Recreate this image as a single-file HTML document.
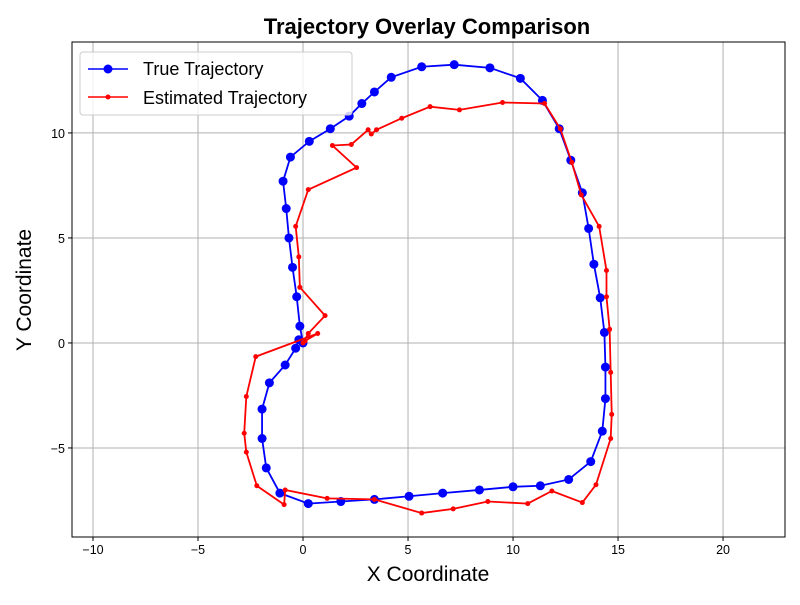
<!DOCTYPE html>
<html><head><meta charset="utf-8"><style>
body{margin:0;background:#fff;font-family:"Liberation Sans",sans-serif}
</style></head><body>
<svg width="800" height="600" xmlns="http://www.w3.org/2000/svg">
<rect width="800" height="600" fill="#fff"/>
<g id="grid"></g>
<g id="ticks"></g>
<g id="series"></g>
<rect x="72" y="42" width="713" height="495" fill="none" stroke="#000" stroke-width="1"/>
<text x="427" y="34" text-anchor="middle" font-size="22" font-weight="bold">Trajectory Overlay Comparison</text>
<text x="428" y="581" text-anchor="middle" font-size="21">X Coordinate</text>
<text x="31" y="290" text-anchor="middle" font-size="21" transform="rotate(-90 31 290)">Y Coordinate</text>
<g>
<rect x="80" y="52" width="272" height="63" rx="3" fill="#fff" fill-opacity="0.8" stroke="#ccc"/>
<g>
<line x1="88" y1="69" x2="128" y2="69" stroke="#0000ff" stroke-width="1.5"/><circle cx="108" cy="69" r="4.5" fill="#0000ff"/>
<text x="143" y="75" font-size="18">True Trajectory</text></g>
<g>
<line x1="88" y1="97" x2="128" y2="97" stroke="#ff0000" stroke-width="1.5"/><circle cx="108" cy="97" r="2.5" fill="#ff0000"/>
<text x="143" y="104" font-size="18">Estimated Trajectory</text></g>
</g>
</svg>
<script>
const xTicks=[-10,-5,0,5,10,15,20];
const yTicks=[-5,0,5,10];
const trueX=[0,-0.15,-0.3,-0.5,-0.67,-0.8,-0.95,-0.6,0.3,1.3,2.2,2.8,3.4,4.2,5.65,7.2,8.9,10.35,11.4,12.2,12.75,13.3,13.6,13.85,14.15,14.35,14.4,14.4,14.25,13.7,12.65,11.3,10.0,8.4,6.65,5.05,3.4,1.8,0.25,-1.1,-1.75,-1.95,-1.95,-1.6,-0.85,-0.35,-0.2];
const trueY=[0,0.8,2.2,3.6,5.0,6.4,7.7,8.85,9.6,10.2,10.8,11.4,11.95,12.65,13.15,13.25,13.1,12.6,11.55,10.2,8.7,7.15,5.45,3.75,2.15,0.5,-1.15,-2.65,-4.2,-5.65,-6.5,-6.8,-6.85,-7.0,-7.15,-7.3,-7.45,-7.55,-7.65,-7.15,-5.95,-4.55,-3.15,-1.9,-1.05,-0.25,0.15];
const estX=[0,0.25,1.05,-0.15,-0.2,-0.35,0.25,2.55,1.4,2.3,3.1,3.25,3.5,4.7,6.05,7.45,9.5,11.5,12.25,12.8,13.25,14.1,14.45,14.45,14.6,14.65,14.7,14.65,13.95,13.3,11.85,10.7,8.8,7.15,5.65,3.4,1.15,-0.85,-0.9,-2.2,-2.7,-2.8,-2.7,-2.25,0.7,0.1];
const estY=[0,0.45,1.3,2.65,4.1,5.55,7.3,8.35,9.4,9.45,10.15,9.95,10.15,10.7,11.25,11.1,11.45,11.4,10.2,8.6,7.05,5.55,3.45,2.2,0.65,-1.4,-3.4,-4.55,-6.75,-7.6,-7.05,-7.65,-7.55,-7.9,-8.1,-7.45,-7.4,-7.0,-7.7,-6.8,-5.2,-4.3,-2.55,-0.65,0.45,0.1];
const X0=72,X1=785,Y0=537,Y1=42,xmin=-11,xmax=22.95,ymin=-9.24,ymax=14.33;
const sx=v=>X0+(v-xmin)/(xmax-xmin)*(X1-X0);
const sy=v=>Y0-(v-ymin)/(ymax-ymin)*(Y0-Y1);
const NS='http://www.w3.org/2000/svg';
function mk(t,a,p){const e=document.createElementNS(NS,t);for(const k in a)e.setAttribute(k,a[k]);p.appendChild(e);return e;}
const grid=document.getElementById('grid'),ticks=document.getElementById('ticks'),ser=document.getElementById('series');
const fmt=v=>v<0?'\u2212'+(-v):''+v;
xTicks.forEach(v=>{const x=sx(v);
const g=mk('line',{x1:x,x2:x,y1:Y1,y2:Y0,stroke:'#b0b0b0','stroke-width':1},grid);


mk('line',{x1:x,x2:x,y1:Y0,y2:Y0+4,stroke:'#000'},ticks);
const t=mk('text',{x:x,y:Y0+17,'text-anchor':'middle','font-size':12.5},ticks);t.textContent=fmt(v);

});
yTicks.forEach(v=>{const y=sy(v);
const g=mk('line',{x1:X0,x2:X1,y1:y,y2:y,stroke:'#b0b0b0','stroke-width':1},grid);


mk('line',{x1:X0-4,x2:X0,y1:y,y2:y,stroke:'#000'},ticks);
const t=mk('text',{x:X0-7,y:y+5,'text-anchor':'end','font-size':12.5},ticks);t.textContent=fmt(v);

});
function draw(xs,ys,col,r,name){
const pl=mk('polyline',{points:xs.map((x,i)=>sx(x)+','+sy(ys[i])).join(' '),fill:'none',stroke:col,'stroke-width':1.8},ser);


xs.forEach((x,i)=>{const c=mk('circle',{cx:sx(x),cy:sy(ys[i]),r:r,fill:col},ser);

});}
draw(trueX,trueY,'#0000ff',4.5,'true-trajectory');
draw(estX,estY,'#ff0000',2.5,'estimated-trajectory');
</script>
</body></html>
